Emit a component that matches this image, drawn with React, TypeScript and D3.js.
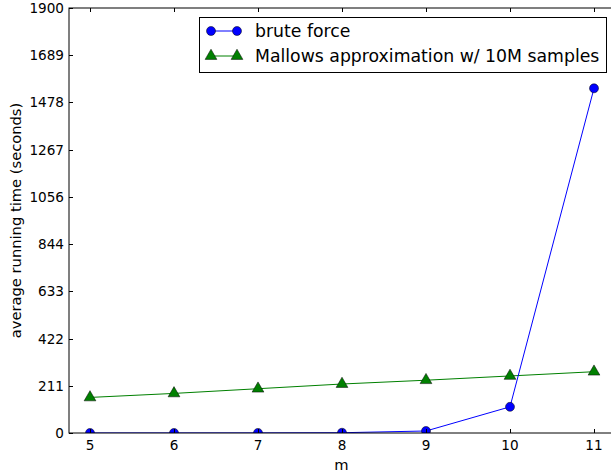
import React, { useEffect, useRef } from "react";
import * as d3 from "d3";

const mValues = [5, 6, 7, 8, 9, 10, 11];
const bruteForce = [0.1, 0.2, 0.4, 1.2, 9, 117, 1541];
const mallows = [159, 177, 198, 219, 236, 255, 274];
const yTicks = [0, 211, 422, 633, 844, 1056, 1267, 1478, 1689, 1900];
const xTicks = [5, 6, 7, 8, 9, 10, 11];

const App = () => {
  const ref = useRef<SVGSVGElement>(null);

  useEffect(() => {
    const svg = d3.select(ref.current);
    svg.selectAll("*").remove();

    const width = 611;
    const height = 473;
    const margin = { top: 8, right: -4, bottom: 40, left: 69 };
    const font = "DejaVu Sans, sans-serif";

    const x = d3.scaleLinear().domain([4.75, 11.25]).range([margin.left, width - margin.right]);
    const y = d3.scaleLinear().domain([0, 1900]).range([height - margin.bottom, margin.top]);

    svg.append("rect").attr("width", width).attr("height", height).attr("fill", "white");

    const x0 = x.range()[0], x1 = x.range()[1];
    const y0 = y.range()[0], y1 = y.range()[1];

    // clip for data
    svg.append("defs").append("clipPath").attr("id", "plotclip")
      .append("rect").attr("x", x0).attr("y", y1).attr("width", x1 - x0).attr("height", y0 - y1);

    const plot = svg.append("g").attr("clip-path", "url(#plotclip)");

    const line = d3.line<number>().x((d, i) => x(mValues[i])).y((d) => y(d));

    // Mallows series
    plot.append("path").datum(mallows).attr("d", line).attr("fill", "none")
      .attr("stroke", "#008000").attr("stroke-width", 1);
    // brute force series
    plot.append("path").datum(bruteForce).attr("d", line).attr("fill", "none")
      .attr("stroke", "#0000ff").attr("stroke-width", 1);

    const tri = d3.symbol().type(d3.symbolTriangle).size(60);

    plot.selectAll(".tri").data(mallows).join("path")
      .attr("transform", (d, i) => `translate(${x(mValues[i])},${y(d)})`)
      .attr("d", tri).attr("fill", "#008000").attr("stroke", "black").attr("stroke-width", 0.5);

    plot.selectAll(".dot").data(bruteForce).join("circle")
      .attr("cx", (d, i) => x(mValues[i])).attr("cy", (d) => y(d)).attr("r", 4.5)
      .attr("fill", "#0000ff").attr("stroke", "black").attr("stroke-width", 0.5);

    // frame
    svg.append("rect").attr("x", x0).attr("y", y1).attr("width", x1 - x0).attr("height", y0 - y1)
      .attr("fill", "none").attr("stroke", "black").attr("stroke-width", 1);

    const tl = 4;
    xTicks.forEach((t) => {
      const px = Math.round(x(t)) + 0.5;
      svg.append("line").attr("x1", px).attr("x2", px).attr("y1", y0).attr("y2", y0 - tl).attr("stroke", "black");
      svg.append("line").attr("x1", px).attr("x2", px).attr("y1", y1).attr("y2", y1 + tl).attr("stroke", "black");
      svg.append("text").attr("x", x(t)).attr("y", y0 + 17).attr("text-anchor", "middle")
        .attr("font-family", font).attr("font-size", 13.6).text(t);
    });
    yTicks.forEach((t) => {
      const py = Math.round(y(t)) + 0.5;
      svg.append("line").attr("x1", x0).attr("x2", x0 + tl).attr("y1", py).attr("y2", py).attr("stroke", "black");
      svg.append("line").attr("x1", x1).attr("x2", x1 - tl).attr("y1", py).attr("y2", py).attr("stroke", "black");
      svg.append("text").attr("x", x0 - 5).attr("y", y(t) + 5).attr("text-anchor", "end")
        .attr("font-family", font).attr("font-size", 13.6).text(t);
    });

    svg.append("text").attr("x", (69 + 614) / 2).attr("y", 470).attr("text-anchor", "middle")
      .attr("font-family", font).attr("font-size", 14.7).text("m");
    svg.append("text").attr("transform", `translate(21,${(y0 + y1) / 2}) rotate(-90)`)
      .attr("text-anchor", "middle").attr("font-family", font).attr("font-size", 14.7)
      .text("average running time (seconds)");

    // legend
    const lg = svg.append("g");
    lg.append("rect").attr("x", 199.5).attr("y", 17.5).attr("width", 407).attr("height", 55)
      .attr("fill", "white").attr("stroke", "black").attr("stroke-width", 1);
    const entries = [
      { label: "brute force", color: "#0000ff", kind: "circle", yy: 31 },
      { label: "Mallows approximation w/ 10M samples", color: "#008000", kind: "tri", yy: 56 },
    ];
    entries.forEach((e) => {
      lg.append("line").attr("x1", 211).attr("x2", 237).attr("y1", e.yy).attr("y2", e.yy)
        .attr("stroke", e.color).attr("stroke-width", 1);
      [211, 237].forEach((mx) => {
        if (e.kind === "circle") {
          lg.append("circle").attr("cx", mx).attr("cy", e.yy).attr("r", 4.5)
            .attr("fill", e.color).attr("stroke", "black").attr("stroke-width", 0.5);
        } else {
          lg.append("path").attr("transform", `translate(${mx},${e.yy})`).attr("d", tri)
            .attr("fill", e.color).attr("stroke", "black").attr("stroke-width", 0.5);
        }
      });
      lg.append("text").attr("x", 255).attr("y", e.yy + 6).attr("font-family", font)
        .attr("font-size", 17.3).text(e.label);
    });
  }, []);

  return (
    <div style={{ position: "absolute", left: 0, top: 0 }}>
      <svg ref={ref} width={611} height={473} style={{ display: "block" }} />
    </div>
  );
};

export default App;
